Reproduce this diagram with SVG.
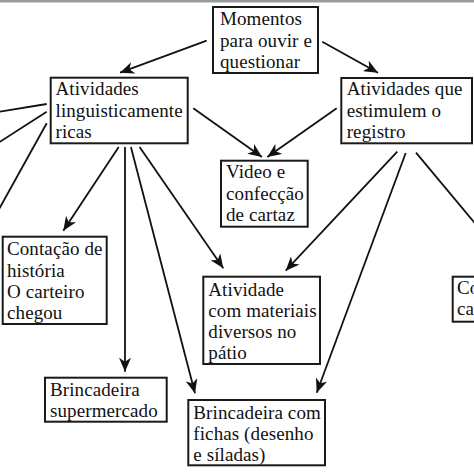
<svg xmlns="http://www.w3.org/2000/svg" width="474" height="474" viewBox="0 0 474 474">
<style>
.box{fill:#fff;stroke:#1a1a1a;stroke-width:2}
.t{font-family:"Liberation Serif","Times New Roman",serif;font-size:19px;fill:#111;letter-spacing:0.1px}
.c{stroke:#111;stroke-width:1.8;fill:none}
.a{marker-end:url(#ah)}
</style>
<defs>
<marker id="ah" markerWidth="16" markerHeight="12" refX="14" refY="6" orient="auto" markerUnits="userSpaceOnUse" viewBox="0 0 16 12"><path d="M0,0 L14,6 L0,12 L4,6 Z" fill="#111"/></marker>
</defs>
<rect x="0" y="0" width="474" height="474" fill="#fff"/>
<rect x="0" y="0" width="474" height="2.5" fill="#9a9a9a"/>
<g id="connectors">
<path class="c a" d="M206.7,40.7 L120,72.7"/>
<path class="c a" d="M322.3,41.7 L378,72.7"/>
<path class="c a" d="M193.3,108.3 L262,157"/>
<path class="c a" d="M336.7,108.3 L267.3,157"/>
<path class="c a" d="M118.7,147 L63.3,230.7"/>
<path class="c a" d="M125,147 L125,371.7"/>
<path class="c a" d="M130.9,147 L195,393.3"/>
<path class="c a" d="M139.6,147 L223.3,268.3"/>
<path class="c a" d="M397.3,151.7 L285.7,270.7"/>
<path class="c a" d="M405.7,153 L316.7,392.7"/>
<path class="c" d="M416,152.7 L476,224.5"/>
<path class="c" d="M46.7,104 L-2,112"/>
<path class="c" d="M46.7,111.7 L-2,143"/>
<path class="c" d="M46.7,123.3 L-2,211"/>
</g>
<g id="n-momentos">
<rect class="box" x="213" y="7" width="105" height="66"/>
<text class="t" x="220" y="25">Momentos</text>
<text class="t" x="220" y="46.5">para ouvir e</text>
<text class="t" x="220" y="68">questionar</text>
</g>
<g id="n-linguisticas">
<rect class="box" x="50.7" y="77.7" width="137" height="65.6"/>
<text class="t" x="55.5" y="95">Atividades</text>
<text class="t" x="55.5" y="116.5">linguisticamente</text>
<text class="t" x="55.5" y="138">ricas</text>
</g>
<g id="n-registro">
<rect class="box" x="341.3" y="78" width="130.7" height="65.3"/>
<text class="t" x="346.7" y="95">Atividades que</text>
<text class="t" x="346.7" y="116.5">estimulem o</text>
<text class="t" x="346.7" y="138">registro</text>
</g>
<g id="n-video">
<rect class="box" x="221" y="160.7" width="86.7" height="66"/>
<text class="t" x="226" y="178">Video e</text>
<text class="t" x="226" y="199.5">confecção</text>
<text class="t" x="226" y="221">de cartaz</text>
</g>
<g id="n-contacao">
<rect class="box" x="2.7" y="236.7" width="104" height="87.3"/>
<text class="t" x="7" y="255">Contação de</text>
<text class="t" x="7" y="276.5">história</text>
<text class="t" x="7" y="297.5">O carteiro</text>
<text class="t" x="7" y="319">chegou</text>
</g>
<g id="n-materiais">
<rect class="box" x="203.3" y="276.7" width="116.7" height="87.3"/>
<text class="t" x="208.3" y="295.5">Atividade</text>
<text class="t" x="208.3" y="316.8">com materiais</text>
<text class="t" x="208.3" y="338">diversos no</text>
<text class="t" x="208.3" y="359">pátio</text>
</g>
<g id="n-supermercado">
<rect class="box" x="45" y="377.7" width="121.7" height="44"/>
<text class="t" x="50" y="395.5">Brincadeira</text>
<text class="t" x="50" y="416.5">supermercado</text>
</g>
<g id="n-fichas">
<rect class="box" x="188.3" y="400" width="136.7" height="65.3"/>
<text class="t" x="193.3" y="418.5">Brincadeira com</text>
<text class="t" x="193.3" y="439.5">fichas (desenho</text>
<text class="t" x="193.3" y="461">e síladas)</text>
</g>
<g id="n-co">
<rect class="box" x="452.7" y="276.7" width="40" height="45"/>
<text class="t" x="457" y="294">Co</text>
<text class="t" x="457" y="315">ca</text>
</g>
</svg>
